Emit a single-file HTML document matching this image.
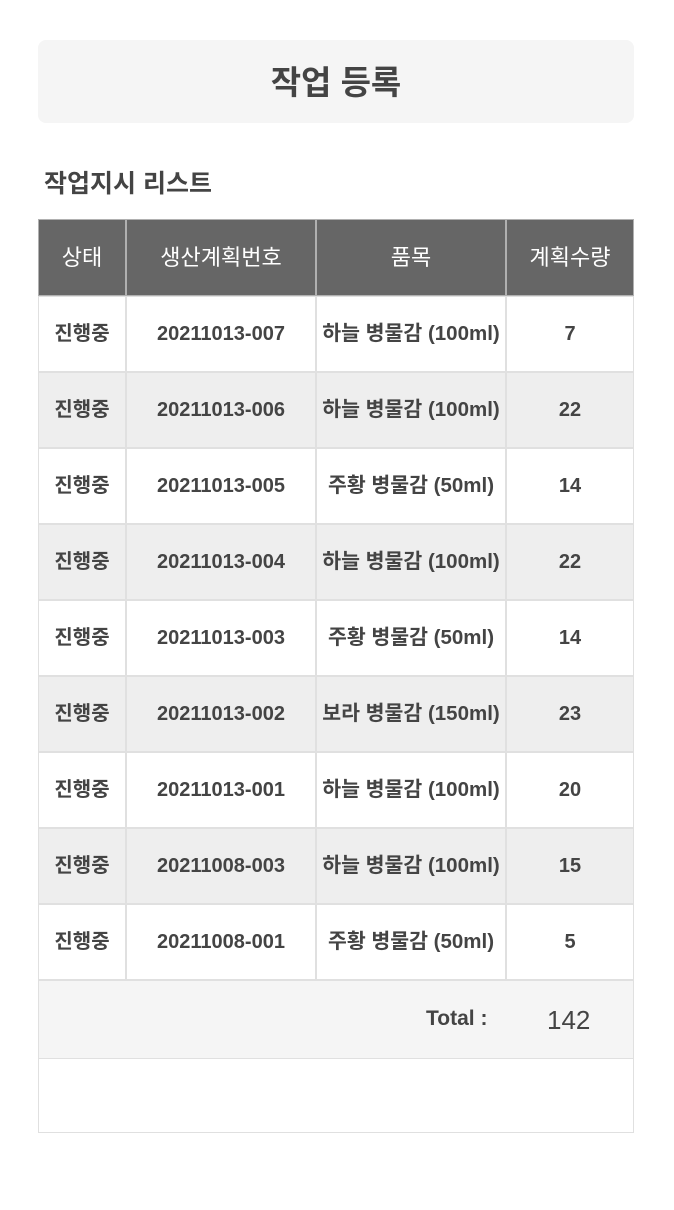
<!DOCTYPE html>
<html><head><meta charset="utf-8"><style>
body{margin:0;width:674px;height:1210px;background:#fff;position:relative;font-family:"Liberation Sans","Noto Sans CJK KR",sans-serif;color:#444;overflow:hidden}
.abs{position:absolute;box-sizing:border-box}
.hdr{left:38px;top:40px;width:596px;height:83px;background:#f5f5f5;border-radius:8px;text-align:center;line-height:86px;font-size:33px;font-weight:bold;color:#444}
.sub{left:44px;top:164px;font-size:25px;font-weight:bold;color:#444}
.cell{text-align:center;font-size:20px;font-weight:bold;border:1px solid #e0e0e0;white-space:nowrap}
.th{background:#666;color:#fff;font-weight:normal;border:1px solid #b0b0b0;font-size:22px}
</style></head><body>
<div class="abs hdr">작업 등록</div>
<div class="abs sub">작업지시 리스트</div>
<div id="tbl"></div>
<script>
const statuses=["진행중","진행중","진행중","진행중","진행중","진행중","진행중","진행중","진행중"];
const planNos=["20211013-007","20211013-006","20211013-005","20211013-004","20211013-003","20211013-002","20211013-001","20211008-003","20211008-001"];
const items=["하늘 병물감 (100ml)","하늘 병물감 (100ml)","주황 병물감 (50ml)","하늘 병물감 (100ml)","주황 병물감 (50ml)","보라 병물감 (150ml)","하늘 병물감 (100ml)","하늘 병물감 (100ml)","주황 병물감 (50ml)"];
const qtys=[7,22,14,22,14,23,20,15,5];
const headers=["상태","생산계획번호","품목","계획수량"];
const colX=[38,126,316,506,634];
const tbl=document.getElementById('tbl');
function cell(x,y,w,h,txt,cls,bg){const d=document.createElement('div');d.className='abs cell '+(cls||'');d.style.cssText+=`left:${x}px;top:${y}px;width:${w}px;height:${h}px;line-height:${h-2}px;`+(bg?`background:${bg};`:'');d.textContent=txt;tbl.appendChild(d);return d;}
headers.forEach((h,i)=>{const d=cell(colX[i],219,colX[i+1]-colX[i],77,h,'th');

});
const rowH=76,top0=296;
for(let r=0;r<planNos.length;r++){const y=top0+r*rowH;const bg=r%2?'#eeeeee':'#ffffff';
const vals=[statuses[r],planNos[r],items[r],qtys[r]];
vals.forEach((v,i)=>{const d=cell(colX[i],y,colX[i+1]-colX[i],rowH,v,'',bg);
if(i===2){d.style.fontSize='20.5px';}

});}
const ty=top0+planNos.length*rowH;
const tot=document.createElement('div');tot.className='abs';tot.style.cssText=`left:38px;top:${ty}px;width:596px;height:79px;background:#f5f5f5;border:1px solid #e0e0e0;`;


const sum=qtys.reduce((a,b)=>a+b,0);
tot.innerHTML=`<span style="position:absolute;left:387px;top:26px;font-size:21px;font-weight:bold;color:#444">Total :</span><span style="position:absolute;left:508px;top:24px;font-size:26px;color:#444">${sum}</span>`;
tbl.appendChild(tot);
const em=document.createElement('div');em.className='abs';em.style.cssText=`left:38px;top:${ty+79}px;width:596px;height:74px;border:1px solid #e0e0e0;border-top:none;`;


tbl.appendChild(em);
</script>
</body></html>
